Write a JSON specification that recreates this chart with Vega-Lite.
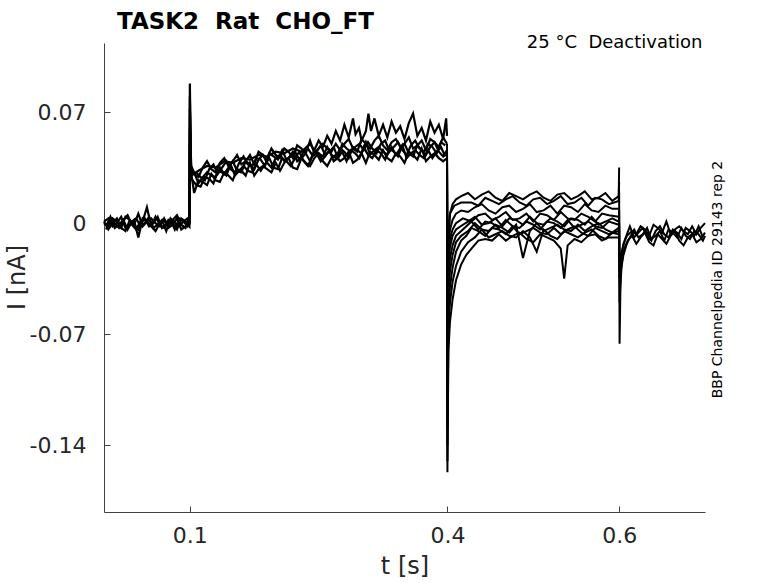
{
  "$schema": "https://vega.github.io/schema/vega-lite/v6.json",
  "width": 601,
  "height": 469,
  "autosize": "none",
  "padding": {"left": 104, "top": 43, "right": 73, "bottom": 71},
  "background": "white",
  "title": {
    "text": "TASK2 \u00a0Rat \u00a0CHO_FT",
    "frame": "group",
    "anchor": "start",
    "dx": 13,
    "offset": -19,
    "baseline": "alphabetic",
    "fontSize": 23,
    "fontWeight": "bold",
    "font": "DejaVu Sans",
    "color": "black"
  },
  "datasets": {
    "step": [
      {"s":"a1","t":0,"i":0.001},{"s":"a1","t":0.005,"i":-0.004},{"s":"a1","t":0.01,"i":0},{"s":"a1","t":0.015,"i":0.003},{"s":"a1","t":0.02,"i":-0.003},{"s":"a1","t":0.025,"i":-0.005},{"s":"a1","t":0.03,"i":0.002},{"s":"a1","t":0.035,"i":-0.001},{"s":"a1","t":0.04,"i":-0.004},{"s":"a1","t":0.045,"i":0.001},{"s":"a1","t":0.05,"i":0.01},{"s":"a1","t":0.055,"i":-0.002},{"s":"a1","t":0.06,"i":-0.005},{"s":"a1","t":0.065,"i":0},{"s":"a1","t":0.07,"i":0.002},{"s":"a1","t":0.075,"i":-0.003},{"s":"a1","t":0.08,"i":-0.001},{"s":"a1","t":0.085,"i":0.003},{"s":"a1","t":0.09,"i":-0.004},{"s":"a1","t":0.095,"i":-0.002},{"s":"a1","t":0.0995,"i":0.001},{"s":"a1","t":0.1,"i":0.088},{"s":"a1","t":0.1015,"i":0.032},
      {"s":"a1","t":0.105,"i":0.019},{"s":"a1","t":0.11,"i":0.027},{"s":"a1","t":0.115,"i":0.026},{"s":"a1","t":0.12,"i":0.024},{"s":"a1","t":0.125,"i":0.031},{"s":"a1","t":0.13,"i":0.027},{"s":"a1","t":0.135,"i":0.026},{"s":"a1","t":0.14,"i":0.032},{"s":"a1","t":0.145,"i":0.03},{"s":"a1","t":0.15,"i":0.027},{"s":"a1","t":0.155,"i":0.034},{"s":"a1","t":0.16,"i":0.033},{"s":"a1","t":0.165,"i":0.03},{"s":"a1","t":0.17,"i":0.038},{"s":"a1","t":0.175,"i":0.03},{"s":"a1","t":0.18,"i":0.034},{"s":"a1","t":0.185,"i":0.036},{"s":"a1","t":0.19,"i":0.034},{"s":"a1","t":0.195,"i":0.032},{"s":"a1","t":0.2,"i":0.038},{"s":"a1","t":0.205,"i":0.033},{"s":"a1","t":0.21,"i":0.038},{"s":"a1","t":0.215,"i":0.041},{"s":"a1","t":0.22,"i":0.035},{"s":"a1","t":0.225,"i":0.034},{"s":"a1","t":0.23,"i":0.041},{"s":"a1","t":0.235,"i":0.038},{"s":"a1","t":0.24,"i":0.036},{"s":"a1","t":0.245,"i":0.041},{"s":"a1","t":0.25,"i":0.044},{"s":"a1","t":0.255,"i":0.039},{"s":"a1","t":0.26,"i":0.036},{"s":"a1","t":0.265,"i":0.041},{"s":"a1","t":0.27,"i":0.043},{"s":"a1","t":0.275,"i":0.039},{"s":"a1","t":0.28,"i":0.041},{"s":"a1","t":0.285,"i":0.045},{"s":"a1","t":0.29,"i":0.038},{"s":"a1","t":0.295,"i":0.04},{"s":"a1","t":0.3,"i":0.044},{"s":"a1","t":0.305,"i":0.038},{"s":"a1","t":0.31,"i":0.045},{"s":"a1","t":0.315,"i":0.043},{"s":"a1","t":0.32,"i":0.04},{"s":"a1","t":0.325,"i":0.046},{"s":"a1","t":0.33,"i":0.041},{"s":"a1","t":0.335,"i":0.039},{"s":"a1","t":0.34,"i":0.044},{"s":"a1","t":0.345,"i":0.042},{"s":"a1","t":0.35,"i":0.038},{"s":"a1","t":0.355,"i":0.045},{"s":"a1","t":0.36,"i":0.043},{"s":"a1","t":0.365,"i":0.04},{"s":"a1","t":0.37,"i":0.047},{"s":"a1","t":0.375,"i":0.039},{"s":"a1","t":0.38,"i":0.042},{"s":"a1","t":0.385,"i":0.044},{"s":"a1","t":0.39,"i":0.041},{"s":"a1","t":0.395,"i":0.039},{"s":"a1","t":0.3995,"i":0.041},

      {"s":"a2","t":0,"i":0.001},{"s":"a2","t":0.005,"i":0.003},{"s":"a2","t":0.01,"i":-0.002},{"s":"a2","t":0.015,"i":0},{"s":"a2","t":0.02,"i":0.004},{"s":"a2","t":0.025,"i":-0.003},{"s":"a2","t":0.03,"i":-0.001},{"s":"a2","t":0.035,"i":0.002},{"s":"a2","t":0.04,"i":-0.009},{"s":"a2","t":0.045,"i":0.003},{"s":"a2","t":0.05,"i":0.001},{"s":"a2","t":0.055,"i":-0.002},{"s":"a2","t":0.06,"i":0.004},{"s":"a2","t":0.065,"i":-0.001},{"s":"a2","t":0.07,"i":-0.003},{"s":"a2","t":0.075,"i":0.002},{"s":"a2","t":0.08,"i":0},{"s":"a2","t":0.085,"i":-0.004},{"s":"a2","t":0.09,"i":0.003},{"s":"a2","t":0.095,"i":0.001},{"s":"a2","t":0.0995,"i":-0.002},{"s":"a2","t":0.1,"i":0.072},{"s":"a2","t":0.1015,"i":0.036},
      {"s":"a2","t":0.105,"i":0.032},{"s":"a2","t":0.11,"i":0.025},{"s":"a2","t":0.115,"i":0.029},{"s":"a2","t":0.12,"i":0.032},{"s":"a2","t":0.125,"i":0.03},{"s":"a2","t":0.13,"i":0.029},{"s":"a2","t":0.135,"i":0.035},{"s":"a2","t":0.14,"i":0.031},{"s":"a2","t":0.145,"i":0.035},{"s":"a2","t":0.15,"i":0.039},{"s":"a2","t":0.155,"i":0.033},{"s":"a2","t":0.16,"i":0.032},{"s":"a2","t":0.165,"i":0.039},{"s":"a2","t":0.17,"i":0.037},{"s":"a2","t":0.175,"i":0.034},{"s":"a2","t":0.18,"i":0.04},{"s":"a2","t":0.185,"i":0.043},{"s":"a2","t":0.19,"i":0.038},{"s":"a2","t":0.195,"i":0.035},{"s":"a2","t":0.2,"i":0.041},{"s":"a2","t":0.205,"i":0.043},{"s":"a2","t":0.21,"i":0.039},{"s":"a2","t":0.215,"i":0.041},{"s":"a2","t":0.22,"i":0.045},{"s":"a2","t":0.225,"i":0.039},{"s":"a2","t":0.23,"i":0.041},{"s":"a2","t":0.235,"i":0.044},{"s":"a2","t":0.24,"i":0.039},{"s":"a2","t":0.245,"i":0.046},{"s":"a2","t":0.25,"i":0.044},{"s":"a2","t":0.255,"i":0.042},{"s":"a2","t":0.26,"i":0.048},{"s":"a2","t":0.265,"i":0.043},{"s":"a2","t":0.27,"i":0.041},{"s":"a2","t":0.275,"i":0.047},{"s":"a2","t":0.28,"i":0.045},{"s":"a2","t":0.285,"i":0.041},{"s":"a2","t":0.29,"i":0.048},{"s":"a2","t":0.295,"i":0.046},{"s":"a2","t":0.3,"i":0.044},{"s":"a2","t":0.305,"i":0.051},{"s":"a2","t":0.31,"i":0.043},{"s":"a2","t":0.315,"i":0.046},{"s":"a2","t":0.32,"i":0.048},{"s":"a2","t":0.325,"i":0.045},{"s":"a2","t":0.33,"i":0.043},{"s":"a2","t":0.335,"i":0.048},{"s":"a2","t":0.34,"i":0.043},{"s":"a2","t":0.345,"i":0.047},{"s":"a2","t":0.35,"i":0.05},{"s":"a2","t":0.355,"i":0.044},{"s":"a2","t":0.36,"i":0.042},{"s":"a2","t":0.365,"i":0.049},{"s":"a2","t":0.37,"i":0.046},{"s":"a2","t":0.375,"i":0.043},{"s":"a2","t":0.38,"i":0.048},{"s":"a2","t":0.385,"i":0.051},{"s":"a2","t":0.39,"i":0.045},{"s":"a2","t":0.395,"i":0.042},{"s":"a2","t":0.3995,"i":0.046},

      {"s":"a3","t":0,"i":0},{"s":"a3","t":0.005,"i":-0.002},{"s":"a3","t":0.01,"i":0.003},{"s":"a3","t":0.015,"i":0.001},{"s":"a3","t":0.02,"i":-0.003},{"s":"a3","t":0.025,"i":0.004},{"s":"a3","t":0.03,"i":0.002},{"s":"a3","t":0.035,"i":-0.001},{"s":"a3","t":0.04,"i":0.006},{"s":"a3","t":0.045,"i":-0.002},{"s":"a3","t":0.05,"i":0.001},{"s":"a3","t":0.055,"i":0.003},{"s":"a3","t":0.06,"i":0},{"s":"a3","t":0.065,"i":-0.002},{"s":"a3","t":0.07,"i":0.003},{"s":"a3","t":0.075,"i":-0.002},{"s":"a3","t":0.08,"i":0.002},{"s":"a3","t":0.085,"i":0.005},{"s":"a3","t":0.09,"i":-0.001},{"s":"a3","t":0.095,"i":-0.003},{"s":"a3","t":0.0995,"i":0.004},{"s":"a3","t":0.1,"i":0.06},{"s":"a3","t":0.1015,"i":0.034},
      {"s":"a3","t":0.105,"i":0.031},{"s":"a3","t":0.11,"i":0.029},{"s":"a3","t":0.115,"i":0.035},{"s":"a3","t":0.12,"i":0.039},{"s":"a3","t":0.125,"i":0.034},{"s":"a3","t":0.13,"i":0.032},{"s":"a3","t":0.135,"i":0.038},{"s":"a3","t":0.14,"i":0.041},{"s":"a3","t":0.145,"i":0.036},{"s":"a3","t":0.15,"i":0.039},{"s":"a3","t":0.155,"i":0.043},{"s":"a3","t":0.16,"i":0.037},{"s":"a3","t":0.165,"i":0.039},{"s":"a3","t":0.17,"i":0.043},{"s":"a3","t":0.175,"i":0.037},{"s":"a3","t":0.18,"i":0.045},{"s":"a3","t":0.185,"i":0.043},{"s":"a3","t":0.19,"i":0.041},{"s":"a3","t":0.195,"i":0.047},{"s":"a3","t":0.2,"i":0.043},{"s":"a3","t":0.205,"i":0.041},{"s":"a3","t":0.21,"i":0.047},{"s":"a3","t":0.215,"i":0.045},{"s":"a3","t":0.22,"i":0.041},{"s":"a3","t":0.225,"i":0.049},{"s":"a3","t":0.23,"i":0.047},{"s":"a3","t":0.235,"i":0.044},{"s":"a3","t":0.24,"i":0.052},{"s":"a3","t":0.245,"i":0.044},{"s":"a3","t":0.25,"i":0.047},{"s":"a3","t":0.255,"i":0.05},{"s":"a3","t":0.26,"i":0.047},{"s":"a3","t":0.265,"i":0.045},{"s":"a3","t":0.27,"i":0.05},{"s":"a3","t":0.275,"i":0.046},{"s":"a3","t":0.28,"i":0.05},{"s":"a3","t":0.285,"i":0.053},{"s":"a3","t":0.29,"i":0.047},{"s":"a3","t":0.295,"i":0.045},{"s":"a3","t":0.3,"i":0.053},{"s":"a3","t":0.305,"i":0.05},{"s":"a3","t":0.31,"i":0.047},{"s":"a3","t":0.315,"i":0.052},{"s":"a3","t":0.32,"i":0.055},{"s":"a3","t":0.325,"i":0.049},{"s":"a3","t":0.33,"i":0.046},{"s":"a3","t":0.335,"i":0.051},{"s":"a3","t":0.34,"i":0.053},{"s":"a3","t":0.345,"i":0.048},{"s":"a3","t":0.35,"i":0.05},{"s":"a3","t":0.355,"i":0.054},{"s":"a3","t":0.36,"i":0.047},{"s":"a3","t":0.365,"i":0.049},{"s":"a3","t":0.37,"i":0.052},{"s":"a3","t":0.375,"i":0.046},{"s":"a3","t":0.38,"i":0.053},{"s":"a3","t":0.385,"i":0.051},{"s":"a3","t":0.39,"i":0.048},{"s":"a3","t":0.395,"i":0.054},{"s":"a3","t":0.3995,"i":0.05},

      {"s":"a4","t":0.1015,"i":0.03},{"s":"a4","t":0.11,"i":0.033},{"s":"a4","t":0.12,"i":0.036},{"s":"a4","t":0.13,"i":0.035},{"s":"a4","t":0.14,"i":0.039},{"s":"a4","t":0.15,"i":0.038},{"s":"a4","t":0.16,"i":0.041},{"s":"a4","t":0.17,"i":0.04},{"s":"a4","t":0.18,"i":0.043},{"s":"a4","t":0.19,"i":0.042},{"s":"a4","t":0.2,"i":0.045},{"s":"a4","t":0.21,"i":0.044},{"s":"a4","t":0.22,"i":0.047},{"s":"a4","t":0.23,"i":0.045},{"s":"a4","t":0.24,"i":0.05},{"s":"a4","t":0.245,"i":0.046},{"s":"a4","t":0.25,"i":0.052},{"s":"a4","t":0.255,"i":0.048},{"s":"a4","t":0.26,"i":0.055},{"s":"a4","t":0.265,"i":0.05},{"s":"a4","t":0.27,"i":0.058},{"s":"a4","t":0.275,"i":0.052},{"s":"a4","t":0.28,"i":0.062},{"s":"a4","t":0.285,"i":0.054},{"s":"a4","t":0.29,"i":0.066},{"s":"a4","t":0.293,"i":0.056},{"s":"a4","t":0.297,"i":0.06},{"s":"a4","t":0.3,"i":0.052},{"s":"a4","t":0.305,"i":0.058},{"s":"a4","t":0.308,"i":0.069},{"s":"a4","t":0.311,"i":0.058},{"s":"a4","t":0.315,"i":0.066},{"s":"a4","t":0.32,"i":0.055},{"s":"a4","t":0.325,"i":0.062},{"s":"a4","t":0.33,"i":0.054},{"s":"a4","t":0.335,"i":0.064},{"s":"a4","t":0.34,"i":0.057},{"s":"a4","t":0.345,"i":0.061},{"s":"a4","t":0.35,"i":0.053},{"s":"a4","t":0.355,"i":0.063},{"s":"a4","t":0.36,"i":0.069},{"s":"a4","t":0.365,"i":0.055},{"s":"a4","t":0.37,"i":0.06},{"s":"a4","t":0.375,"i":0.052},{"s":"a4","t":0.38,"i":0.064},{"s":"a4","t":0.385,"i":0.057},{"s":"a4","t":0.39,"i":0.062},{"s":"a4","t":0.395,"i":0.053},{"s":"a4","t":0.3985,"i":0.066},{"s":"a4","t":0.3995,"i":0.055},

      {"s":"a5","t":0.0025,"i":-0.004},{"s":"a5","t":0.0075,"i":0.003},{"s":"a5","t":0.0125,"i":0},{"s":"a5","t":0.0175,"i":-0.003},{"s":"a5","t":0.0225,"i":0.002},{"s":"a5","t":0.0275,"i":0.005},{"s":"a5","t":0.0325,"i":-0.001},{"s":"a5","t":0.0375,"i":-0.004},{"s":"a5","t":0.0425,"i":0.001},{"s":"a5","t":0.0475,"i":0.003},{"s":"a5","t":0.0525,"i":-0.002},{"s":"a5","t":0.0575,"i":0},{"s":"a5","t":0.0625,"i":0.004},{"s":"a5","t":0.0675,"i":-0.003},{"s":"a5","t":0.0725,"i":-0.001},{"s":"a5","t":0.0775,"i":0.002},{"s":"a5","t":0.0825,"i":-0.004},{"s":"a5","t":0.0875,"i":0.003},{"s":"a5","t":0.0925,"i":0.001},{"s":"a5","t":0.0975,"i":-0.002},{"s":"a5","t":0.0995,"i":0},{"s":"a5","t":0.1,"i":0.05},{"s":"a5","t":0.1015,"i":0.028},
      {"s":"a5","t":0.1075,"i":0.024},{"s":"a5","t":0.1125,"i":0.023},{"s":"a5","t":0.1175,"i":0.029},{"s":"a5","t":0.1225,"i":0.028},{"s":"a5","t":0.1275,"i":0.025},{"s":"a5","t":0.1325,"i":0.033},{"s":"a5","t":0.1375,"i":0.032},{"s":"a5","t":0.1425,"i":0.03},{"s":"a5","t":0.1475,"i":0.037},{"s":"a5","t":0.1525,"i":0.03},{"s":"a5","t":0.1575,"i":0.033},{"s":"a5","t":0.1625,"i":0.036},{"s":"a5","t":0.1675,"i":0.033},{"s":"a5","t":0.1725,"i":0.032},{"s":"a5","t":0.1775,"i":0.037},{"s":"a5","t":0.1825,"i":0.033},{"s":"a5","t":0.1875,"i":0.037},{"s":"a5","t":0.1925,"i":0.041},{"s":"a5","t":0.1975,"i":0.035},{"s":"a5","t":0.2025,"i":0.034},{"s":"a5","t":0.2075,"i":0.041},{"s":"a5","t":0.2125,"i":0.039},{"s":"a5","t":0.2175,"i":0.036},{"s":"a5","t":0.2225,"i":0.041},{"s":"a5","t":0.2275,"i":0.045},{"s":"a5","t":0.2325,"i":0.039},{"s":"a5","t":0.2375,"i":0.036},{"s":"a5","t":0.2425,"i":0.042},{"s":"a5","t":0.2475,"i":0.044},{"s":"a5","t":0.2525,"i":0.039},{"s":"a5","t":0.2575,"i":0.042},{"s":"a5","t":0.2625,"i":0.046},{"s":"a5","t":0.2675,"i":0.039},{"s":"a5","t":0.2725,"i":0.041},{"s":"a5","t":0.2775,"i":0.045},{"s":"a5","t":0.2825,"i":0.039},{"s":"a5","t":0.2875,"i":0.046},{"s":"a5","t":0.2925,"i":0.044},{"s":"a5","t":0.2975,"i":0.041},{"s":"a5","t":0.3025,"i":0.048},{"s":"a5","t":0.3075,"i":0.043},{"s":"a5","t":0.3125,"i":0.041},{"s":"a5","t":0.3175,"i":0.046},{"s":"a5","t":0.3225,"i":0.044},{"s":"a5","t":0.3275,"i":0.04},{"s":"a5","t":0.3325,"i":0.047},{"s":"a5","t":0.3375,"i":0.045},{"s":"a5","t":0.3425,"i":0.042},{"s":"a5","t":0.3475,"i":0.049},{"s":"a5","t":0.3525,"i":0.041},{"s":"a5","t":0.3575,"i":0.044},{"s":"a5","t":0.3625,"i":0.046},{"s":"a5","t":0.3675,"i":0.043},{"s":"a5","t":0.3725,"i":0.041},{"s":"a5","t":0.3775,"i":0.046},{"s":"a5","t":0.3825,"i":0.041},{"s":"a5","t":0.3875,"i":0.045},{"s":"a5","t":0.3925,"i":0.048},{"s":"a5","t":0.3975,"i":0.042},

      {"s":"a6","t":0.0025,"i":-0.002},{"s":"a6","t":0.0075,"i":0.004},{"s":"a6","t":0.0125,"i":-0.003},{"s":"a6","t":0.0175,"i":-0.001},{"s":"a6","t":0.0225,"i":0.002},{"s":"a6","t":0.0275,"i":-0.004},{"s":"a6","t":0.0325,"i":0.001},{"s":"a6","t":0.0375,"i":0.003},{"s":"a6","t":0.0425,"i":-0.002},{"s":"a6","t":0.0475,"i":0},{"s":"a6","t":0.0525,"i":0.004},{"s":"a6","t":0.0575,"i":-0.003},{"s":"a6","t":0.0625,"i":-0.001},{"s":"a6","t":0.0675,"i":0.002},{"s":"a6","t":0.0725,"i":-0.005},{"s":"a6","t":0.0775,"i":0.003},{"s":"a6","t":0.0825,"i":0},{"s":"a6","t":0.0875,"i":-0.002},{"s":"a6","t":0.0925,"i":0.001},{"s":"a6","t":0.0975,"i":0.003},{"s":"a6","t":0.0995,"i":-0.001},{"s":"a6","t":0.1,"i":0.08},{"s":"a6","t":0.1015,"i":0.03},
      {"s":"a6","t":0.1075,"i":0.032},{"s":"a6","t":0.1125,"i":0.029},{"s":"a6","t":0.1175,"i":0.027},{"s":"a6","t":0.1225,"i":0.034},{"s":"a6","t":0.1275,"i":0.037},{"s":"a6","t":0.1325,"i":0.031},{"s":"a6","t":0.1375,"i":0.035},{"s":"a6","t":0.1425,"i":0.039},{"s":"a6","t":0.1475,"i":0.034},{"s":"a6","t":0.1525,"i":0.032},{"s":"a6","t":0.1575,"i":0.038},{"s":"a6","t":0.1625,"i":0.042},{"s":"a6","t":0.1675,"i":0.037},{"s":"a6","t":0.1725,"i":0.036},{"s":"a6","t":0.1775,"i":0.041},{"s":"a6","t":0.1825,"i":0.04},{"s":"a6","t":0.1875,"i":0.036},{"s":"a6","t":0.1925,"i":0.044},{"s":"a6","t":0.1975,"i":0.042},{"s":"a6","t":0.2025,"i":0.04},{"s":"a6","t":0.2075,"i":0.046},{"s":"a6","t":0.2125,"i":0.04},{"s":"a6","t":0.2175,"i":0.042},{"s":"a6","t":0.2225,"i":0.045},{"s":"a6","t":0.2275,"i":0.04},{"s":"a6","t":0.2325,"i":0.045},{"s":"a6","t":0.2375,"i":0.047},{"s":"a6","t":0.2425,"i":0.043},{"s":"a6","t":0.2475,"i":0.045},{"s":"a6","t":0.2525,"i":0.049},{"s":"a6","t":0.2575,"i":0.043},{"s":"a6","t":0.2625,"i":0.045},{"s":"a6","t":0.2675,"i":0.048},{"s":"a6","t":0.2725,"i":0.041},{"s":"a6","t":0.2775,"i":0.05},{"s":"a6","t":0.2825,"i":0.047},{"s":"a6","t":0.2875,"i":0.045},{"s":"a6","t":0.2925,"i":0.048},{"s":"a6","t":0.2975,"i":0.05},{"s":"a6","t":0.3025,"i":0.046},{"s":"a6","t":0.3075,"i":0.051},{"s":"a6","t":0.3125,"i":0.047},{"s":"a6","t":0.3175,"i":0.044},{"s":"a6","t":0.3225,"i":0.05},{"s":"a6","t":0.3275,"i":0.052},{"s":"a6","t":0.3325,"i":0.045},{"s":"a6","t":0.3375,"i":0.048},{"s":"a6","t":0.3425,"i":0.051},{"s":"a6","t":0.3475,"i":0.046},{"s":"a6","t":0.3525,"i":0.043},{"s":"a6","t":0.3575,"i":0.049},{"s":"a6","t":0.3625,"i":0.052},{"s":"a6","t":0.3675,"i":0.047},{"s":"a6","t":0.3725,"i":0.045},{"s":"a6","t":0.3775,"i":0.05},{"s":"a6","t":0.3825,"i":0.048},{"s":"a6","t":0.3875,"i":0.044},{"s":"a6","t":0.3925,"i":0.051},{"s":"a6","t":0.3975,"i":0.049}
    ],
    "tail": [
      {"s":"b1","t":0.3995,"i":0.046},{"s":"b1","t":0.4,"i":-0.157},{"s":"b1","t":0.4012,"i":-0.01},{"s":"b1","t":0.403,"i":0.006},{"s":"b1","t":0.406,"i":0.012},{"s":"b1","t":0.41,"i":0.015},{"s":"b1","t":0.416,"i":0.017},
      {"s":"b1","t":0.424,"i":0.019},{"s":"b1","t":0.432,"i":0.015},{"s":"b1","t":0.44,"i":0.018},{"s":"b1","t":0.448,"i":0.02},{"s":"b1","t":0.456,"i":0.016},{"s":"b1","t":0.464,"i":0.014},{"s":"b1","t":0.472,"i":0.019},{"s":"b1","t":0.48,"i":0.017},{"s":"b1","t":0.488,"i":0.015},{"s":"b1","t":0.496,"i":0.018},{"s":"b1","t":0.504,"i":0.02},{"s":"b1","t":0.512,"i":0.016},{"s":"b1","t":0.52,"i":0.014},{"s":"b1","t":0.528,"i":0.018},{"s":"b1","t":0.536,"i":0.019},{"s":"b1","t":0.544,"i":0.015},{"s":"b1","t":0.552,"i":0.017},{"s":"b1","t":0.56,"i":0.02},{"s":"b1","t":0.568,"i":0.015},{"s":"b1","t":0.576,"i":0.016},{"s":"b1","t":0.584,"i":0.019},{"s":"b1","t":0.592,"i":0.014},{"s":"b1","t":0.5995,"i":0.017},{"s":"b1","t":0.6,"i":0.035},

      {"s":"b2","t":0.3995,"i":0.044},{"s":"b2","t":0.4,"i":-0.14},{"s":"b2","t":0.4012,"i":-0.005},{"s":"b2","t":0.403,"i":0.006},{"s":"b2","t":0.408,"i":0.011},{"s":"b2","t":0.416,"i":0.013},
      {"s":"b2","t":0.428,"i":0.013},{"s":"b2","t":0.436,"i":0.011},{"s":"b2","t":0.444,"i":0.016},{"s":"b2","t":0.452,"i":0.014},{"s":"b2","t":0.46,"i":0.012},{"s":"b2","t":0.468,"i":0.015},{"s":"b2","t":0.476,"i":0.017},{"s":"b2","t":0.484,"i":0.013},{"s":"b2","t":0.492,"i":0.011},{"s":"b2","t":0.5,"i":0.015},{"s":"b2","t":0.508,"i":0.016},{"s":"b2","t":0.516,"i":0.012},{"s":"b2","t":0.524,"i":0.014},{"s":"b2","t":0.532,"i":0.017},{"s":"b2","t":0.54,"i":0.012},{"s":"b2","t":0.548,"i":0.013},{"s":"b2","t":0.556,"i":0.016},{"s":"b2","t":0.564,"i":0.011},{"s":"b2","t":0.572,"i":0.016},{"s":"b2","t":0.58,"i":0.015},{"s":"b2","t":0.588,"i":0.012},{"s":"b2","t":0.5995,"i":0.014},{"s":"b2","t":0.6,"i":0.026},

      {"s":"b3","t":0.3995,"i":0.05},{"s":"b3","t":0.4,"i":-0.12},{"s":"b3","t":0.4012,"i":-0.015},{"s":"b3","t":0.403,"i":-0.004},{"s":"b3","t":0.406,"i":0.002},{"s":"b3","t":0.41,"i":0.006},{"s":"b3","t":0.416,"i":0.008},
      {"s":"b3","t":0.424,"i":0.007},{"s":"b3","t":0.432,"i":0.01},{"s":"b3","t":0.44,"i":0.012},{"s":"b3","t":0.448,"i":0.008},{"s":"b3","t":0.456,"i":0.006},{"s":"b3","t":0.464,"i":0.01},{"s":"b3","t":0.472,"i":0.011},{"s":"b3","t":0.48,"i":0.007},{"s":"b3","t":0.488,"i":0.009},{"s":"b3","t":0.496,"i":0.012},{"s":"b3","t":0.504,"i":0.007},{"s":"b3","t":0.512,"i":0.008},{"s":"b3","t":0.52,"i":0.011},{"s":"b3","t":0.528,"i":0.006},{"s":"b3","t":0.536,"i":0.011},{"s":"b3","t":0.544,"i":0.01},{"s":"b3","t":0.552,"i":0.007},{"s":"b3","t":0.56,"i":0.012},{"s":"b3","t":0.568,"i":0.008},{"s":"b3","t":0.576,"i":0.007},{"s":"b3","t":0.584,"i":0.011},{"s":"b3","t":0.592,"i":0.009},{"s":"b3","t":0.5995,"i":0.009},

      {"s":"b4","t":0.3995,"i":0.041},{"s":"b4","t":0.4,"i":-0.1},{"s":"b4","t":0.4012,"i":-0.02},{"s":"b4","t":0.403,"i":-0.01},{"s":"b4","t":0.406,"i":-0.004},{"s":"b4","t":0.41,"i":0},{"s":"b4","t":0.418,"i":0.003},
      {"s":"b4","t":0.428,"i":0.001},{"s":"b4","t":0.436,"i":0.005},{"s":"b4","t":0.444,"i":0.006},{"s":"b4","t":0.452,"i":0.002},{"s":"b4","t":0.46,"i":0.004},{"s":"b4","t":0.468,"i":0.007},{"s":"b4","t":0.476,"i":0.002},{"s":"b4","t":0.484,"i":0.003},{"s":"b4","t":0.492,"i":0.006},{"s":"b4","t":0.5,"i":0.001},{"s":"b4","t":0.508,"i":0.006},{"s":"b4","t":0.516,"i":0.005},{"s":"b4","t":0.524,"i":0.002},{"s":"b4","t":0.532,"i":0.007},{"s":"b4","t":0.54,"i":0.003},{"s":"b4","t":0.548,"i":0.002},{"s":"b4","t":0.556,"i":0.006},{"s":"b4","t":0.564,"i":0.004},{"s":"b4","t":0.572,"i":0.001},{"s":"b4","t":0.58,"i":0.006},{"s":"b4","t":0.588,"i":0.005},{"s":"b4","t":0.5995,"i":0.004},

      {"s":"b5","t":0.3995,"i":0.047},{"s":"b5","t":0.4,"i":-0.09},{"s":"b5","t":0.4012,"i":-0.025},{"s":"b5","t":0.403,"i":-0.015},{"s":"b5","t":0.406,"i":-0.008},{"s":"b5","t":0.41,"i":-0.004},{"s":"b5","t":0.418,"i":-0.001},
      {"s":"b5","t":0.424,"i":0.001},{"s":"b5","t":0.432,"i":0.004},{"s":"b5","t":0.44,"i":-0.001},{"s":"b5","t":0.448,"i":0},{"s":"b5","t":0.456,"i":0.003},{"s":"b5","t":0.464,"i":-0.002},{"s":"b5","t":0.472,"i":0.003},{"s":"b5","t":0.48,"i":0.002},{"s":"b5","t":0.488,"i":-0.001},{"s":"b5","t":0.496,"i":0.004},{"s":"b5","t":0.504,"i":0},{"s":"b5","t":0.512,"i":-0.001},{"s":"b5","t":0.52,"i":0.003},{"s":"b5","t":0.528,"i":0.001},{"s":"b5","t":0.536,"i":-0.002},{"s":"b5","t":0.544,"i":0.003},{"s":"b5","t":0.552,"i":0.002},{"s":"b5","t":0.56,"i":-0.001},{"s":"b5","t":0.568,"i":0.004},{"s":"b5","t":0.576,"i":-0.001},{"s":"b5","t":0.584,"i":0.001},{"s":"b5","t":0.592,"i":0.003},{"s":"b5","t":0.5995,"i":0.001},

      {"s":"b6","t":0.3995,"i":0.043},{"s":"b6","t":0.4,"i":-0.08},{"s":"b6","t":0.4012,"i":-0.035},{"s":"b6","t":0.403,"i":-0.022},{"s":"b6","t":0.406,"i":-0.014},{"s":"b6","t":0.41,"i":-0.008},{"s":"b6","t":0.418,"i":-0.004},
      {"s":"b6","t":0.428,"i":0.001},{"s":"b6","t":0.436,"i":-0.004},{"s":"b6","t":0.444,"i":0.001},{"s":"b6","t":0.452,"i":0},{"s":"b6","t":0.46,"i":-0.003},{"s":"b6","t":0.468,"i":0.002},{"s":"b6","t":0.476,"i":-0.002},{"s":"b6","t":0.484,"i":-0.003},{"s":"b6","t":0.492,"i":0.001},{"s":"b6","t":0.5,"i":-0.001},{"s":"b6","t":0.508,"i":-0.004},{"s":"b6","t":0.516,"i":0.001},{"s":"b6","t":0.524,"i":0},{"s":"b6","t":0.532,"i":-0.003},{"s":"b6","t":0.54,"i":0.002},{"s":"b6","t":0.548,"i":-0.003},{"s":"b6","t":0.556,"i":-0.001},{"s":"b6","t":0.564,"i":0.001},{"s":"b6","t":0.572,"i":-0.002},{"s":"b6","t":0.58,"i":-0.003},{"s":"b6","t":0.588,"i":0.001},{"s":"b6","t":0.5995,"i":-0.001},

      {"s":"b7","t":0.3995,"i":0.048},{"s":"b7","t":0.4,"i":-0.07},{"s":"b7","t":0.4012,"i":-0.045},{"s":"b7","t":0.403,"i":-0.03},{"s":"b7","t":0.406,"i":-0.02},{"s":"b7","t":0.41,"i":-0.012},{"s":"b7","t":0.416,"i":-0.008},
      {"s":"b7","t":0.424,"i":-0.005},{"s":"b7","t":0.432,"i":0},{"s":"b7","t":0.44,"i":-0.004},{"s":"b7","t":0.448,"i":-0.005},{"s":"b7","t":0.456,"i":-0.001},{"s":"b7","t":0.464,"i":-0.003},{"s":"b7","t":0.472,"i":-0.006},{"s":"b7","t":0.48,"i":-0.001},{"s":"b7","t":0.488,"i":-0.022},{"s":"b7","t":0.496,"i":-0.005},{"s":"b7","t":0.504,"i":0},{"s":"b7","t":0.512,"i":-0.005},{"s":"b7","t":0.52,"i":-0.003},{"s":"b7","t":0.528,"i":-0.001},{"s":"b7","t":0.536,"i":-0.004},{"s":"b7","t":0.544,"i":-0.005},{"s":"b7","t":0.552,"i":-0.001},{"s":"b7","t":0.56,"i":-0.005},{"s":"b7","t":0.568,"i":-0.002},{"s":"b7","t":0.576,"i":0},{"s":"b7","t":0.584,"i":-0.004},{"s":"b7","t":0.592,"i":-0.006},{"s":"b7","t":0.5995,"i":-0.003},

      {"s":"b8","t":0.3995,"i":0.045},{"s":"b8","t":0.4,"i":-0.11},{"s":"b8","t":0.4012,"i":-0.055},{"s":"b8","t":0.403,"i":-0.04},{"s":"b8","t":0.406,"i":-0.028},{"s":"b8","t":0.41,"i":-0.018},{"s":"b8","t":0.416,"i":-0.011},{"s":"b8","t":0.422,"i":-0.008},
      {"s":"b8","t":0.428,"i":-0.003},{"s":"b8","t":0.436,"i":-0.005},{"s":"b8","t":0.444,"i":-0.008},{"s":"b8","t":0.452,"i":-0.003},{"s":"b8","t":0.46,"i":-0.004},{"s":"b8","t":0.468,"i":-0.007},{"s":"b8","t":0.476,"i":-0.002},{"s":"b8","t":0.484,"i":-0.007},{"s":"b8","t":0.492,"i":-0.005},{"s":"b8","t":0.5,"i":-0.003},{"s":"b8","t":0.508,"i":-0.006},{"s":"b8","t":0.516,"i":-0.007},{"s":"b8","t":0.524,"i":-0.003},{"s":"b8","t":0.532,"i":-0.007},{"s":"b8","t":0.54,"i":-0.004},{"s":"b8","t":0.548,"i":-0.002},{"s":"b8","t":0.556,"i":-0.006},{"s":"b8","t":0.564,"i":-0.008},{"s":"b8","t":0.572,"i":-0.003},{"s":"b8","t":0.58,"i":-0.005},{"s":"b8","t":0.588,"i":-0.007},{"s":"b8","t":0.5995,"i":-0.005},

      {"s":"b9","t":0.3995,"i":0.042},{"s":"b9","t":0.4,"i":-0.13},{"s":"b9","t":0.4012,"i":-0.065},{"s":"b9","t":0.403,"i":-0.05},{"s":"b9","t":0.406,"i":-0.037},{"s":"b9","t":0.41,"i":-0.027},{"s":"b9","t":0.416,"i":-0.018},
      {"s":"b9","t":0.424,"i":-0.012},{"s":"b9","t":0.432,"i":-0.009},{"s":"b9","t":0.44,"i":-0.004},{"s":"b9","t":0.448,"i":-0.009},{"s":"b9","t":0.456,"i":-0.007},{"s":"b9","t":0.464,"i":-0.005},{"s":"b9","t":0.472,"i":-0.008},{"s":"b9","t":0.48,"i":-0.009},{"s":"b9","t":0.488,"i":-0.005},{"s":"b9","t":0.496,"i":-0.009},{"s":"b9","t":0.504,"i":-0.018},{"s":"b9","t":0.512,"i":-0.004},{"s":"b9","t":0.52,"i":-0.008},{"s":"b9","t":0.528,"i":-0.01},{"s":"b9","t":0.536,"i":-0.005},{"s":"b9","t":0.544,"i":-0.007},{"s":"b9","t":0.552,"i":-0.009},{"s":"b9","t":0.56,"i":-0.006},{"s":"b9","t":0.568,"i":-0.004},{"s":"b9","t":0.576,"i":-0.008},{"s":"b9","t":0.584,"i":-0.01},{"s":"b9","t":0.592,"i":-0.006},{"s":"b9","t":0.5995,"i":-0.007},

      {"s":"b10","t":0.3995,"i":0.049},{"s":"b10","t":0.4,"i":-0.15},{"s":"b10","t":0.4012,"i":-0.08},{"s":"b10","t":0.403,"i":-0.062},{"s":"b10","t":0.406,"i":-0.048},{"s":"b10","t":0.41,"i":-0.036},{"s":"b10","t":0.416,"i":-0.026},{"s":"b10","t":0.422,"i":-0.02},
      {"s":"b10","t":0.428,"i":-0.016},{"s":"b10","t":0.436,"i":-0.011},{"s":"b10","t":0.444,"i":-0.01},{"s":"b10","t":0.452,"i":-0.011},{"s":"b10","t":0.46,"i":-0.007},{"s":"b10","t":0.468,"i":-0.011},{"s":"b10","t":0.476,"i":-0.008},{"s":"b10","t":0.484,"i":-0.006},{"s":"b10","t":0.492,"i":-0.01},{"s":"b10","t":0.5,"i":-0.012},{"s":"b10","t":0.508,"i":-0.007},{"s":"b10","t":0.516,"i":-0.009},{"s":"b10","t":0.524,"i":-0.011},{"s":"b10","t":0.532,"i":-0.016},{"s":"b10","t":0.536,"i":-0.035},{"s":"b10","t":0.54,"i":-0.014},{"s":"b10","t":0.548,"i":-0.01},{"s":"b10","t":0.556,"i":-0.012},{"s":"b10","t":0.564,"i":-0.008},{"s":"b10","t":0.572,"i":-0.007},{"s":"b10","t":0.58,"i":-0.011},{"s":"b10","t":0.588,"i":-0.009},{"s":"b10","t":0.5995,"i":-0.009},

      {"s":"c1","t":0.6,"i":0.02},{"s":"c1","t":0.6005,"i":-0.076},{"s":"c1","t":0.6015,"i":-0.04},{"s":"c1","t":0.603,"i":-0.025},{"s":"c1","t":0.606,"i":-0.016},{"s":"c1","t":0.61,"i":-0.011},
      {"s":"c1","t":0.615,"i":-0.008},{"s":"c1","t":0.62,"i":-0.013},{"s":"c1","t":0.625,"i":-0.009},{"s":"c1","t":0.63,"i":-0.006},{"s":"c1","t":0.635,"i":-0.012},{"s":"c1","t":0.64,"i":-0.014},{"s":"c1","t":0.645,"i":-0.007},{"s":"c1","t":0.65,"i":-0.01},{"s":"c1","t":0.655,"i":-0.013},{"s":"c1","t":0.66,"i":-0.008},{"s":"c1","t":0.665,"i":-0.005},{"s":"c1","t":0.67,"i":-0.011},{"s":"c1","t":0.675,"i":-0.014},{"s":"c1","t":0.68,"i":-0.009},{"s":"c1","t":0.685,"i":-0.007},{"s":"c1","t":0.69,"i":-0.012},{"s":"c1","t":0.695,"i":-0.01},{"s":"c1","t":0.7,"i":-0.006},

      {"s":"c2","t":0.6,"i":0.008},{"s":"c2","t":0.6005,"i":-0.05},{"s":"c2","t":0.602,"i":-0.03},{"s":"c2","t":0.605,"i":-0.02},{"s":"c2","t":0.609,"i":-0.013},
      {"s":"c2","t":0.6125,"i":-0.009},{"s":"c2","t":0.6175,"i":-0.004},{"s":"c2","t":0.6225,"i":-0.009},{"s":"c2","t":0.6275,"i":-0.007},{"s":"c2","t":0.6325,"i":-0.003},{"s":"c2","t":0.6375,"i":-0.01},{"s":"c2","t":0.6425,"i":-0.008},{"s":"c2","t":0.6475,"i":-0.005},{"s":"c2","t":0.6525,"i":-0.011},{"s":"c2","t":0.6575,"i":-0.004},{"s":"c2","t":0.6625,"i":-0.006},{"s":"c2","t":0.6675,"i":-0.009},{"s":"c2","t":0.6725,"i":-0.003},{"s":"c2","t":0.6775,"i":-0.008},{"s":"c2","t":0.6825,"i":-0.01},{"s":"c2","t":0.6875,"i":-0.005},{"s":"c2","t":0.6925,"i":-0.007},{"s":"c2","t":0.6975,"i":-0.011},{"s":"c2","t":0.7,"i":-0.008},

      {"s":"c3","t":0.6,"i":-0.002},{"s":"c3","t":0.6005,"i":-0.035},{"s":"c3","t":0.602,"i":-0.022},{"s":"c3","t":0.605,"i":-0.013},{"s":"c3","t":0.609,"i":-0.008},
      {"s":"c3","t":0.615,"i":-0.005},{"s":"c3","t":0.62,"i":-0.007},{"s":"c3","t":0.625,"i":-0.002},{"s":"c3","t":0.63,"i":-0.004},{"s":"c3","t":0.635,"i":-0.008},{"s":"c3","t":0.64,"i":-0.001},{"s":"c3","t":0.645,"i":-0.003},{"s":"c3","t":0.65,"i":-0.006},{"s":"c3","t":0.655,"i":0.001},{"s":"c3","t":0.66,"i":-0.007},{"s":"c3","t":0.665,"i":-0.004},{"s":"c3","t":0.67,"i":-0.002},{"s":"c3","t":0.675,"i":-0.005},{"s":"c3","t":0.68,"i":-0.007},{"s":"c3","t":0.685,"i":-0.002},{"s":"c3","t":0.69,"i":-0.007},{"s":"c3","t":0.695,"i":-0.003},{"s":"c3","t":0.7,"i":0},

      {"s":"c4","t":0.6,"i":0},{"s":"c4","t":0.6005,"i":-0.03},{"s":"c4","t":0.603,"i":-0.018},{"s":"c4","t":0.607,"i":-0.01},
      {"s":"c4","t":0.6125,"i":-0.002},{"s":"c4","t":0.6175,"i":-0.009},{"s":"c4","t":0.6225,"i":-0.006},{"s":"c4","t":0.6275,"i":-0.003},{"s":"c4","t":0.6325,"i":-0.008},{"s":"c4","t":0.6375,"i":-0.011},{"s":"c4","t":0.6425,"i":-0.005},{"s":"c4","t":0.6475,"i":-0.002},{"s":"c4","t":0.6525,"i":-0.007},{"s":"c4","t":0.6575,"i":-0.009},{"s":"c4","t":0.6625,"i":-0.004},{"s":"c4","t":0.6675,"i":-0.006},{"s":"c4","t":0.6725,"i":-0.01},{"s":"c4","t":0.6775,"i":-0.003},{"s":"c4","t":0.6825,"i":-0.005},{"s":"c4","t":0.6875,"i":-0.008},{"s":"c4","t":0.6925,"i":-0.002},{"s":"c4","t":0.6975,"i":-0.009}
    ]
  },
  "layer": [
    {
      "data": {"name": "step"},
      "mark": {"type": "line", "color": "black", "strokeWidth": 2.2},
      "encoding": {
        "x": {
          "field": "t",
          "type": "quantitative",
          "scale": {"domain": [0, 0.7], "nice": false, "zero": false},
          "axis": {
            "orient": "bottom",
            "values": [0.1, 0.4, 0.6],
            "labelExpr": "'' + datum.value",
            "labelFontSize": 22,
            "labelFlush": false,
            "tickSize": -6,
            "labelPadding": 19,
            "title": "t [s]",
            "titleFontSize": 24,
            "titleX": 300.5,
            "titleY": 61,
            "titleAlign": "center",
            "titleBaseline": "alphabetic"
          }
        },
        "y": {
          "field": "i",
          "type": "quantitative",
          "scale": {"domain": [-0.182, 0.1135], "nice": false, "zero": false},
          "axis": {
            "orient": "left",
            "values": [-0.14, -0.07, 0, 0.07],
            "labelExpr": "'' + datum.value",
            "labelFontSize": 22,
            "labelFlush": false,
            "tickSize": -6,
            "labelPadding": 24,
            "title": "I [nA]",
            "titleFontSize": 24,
            "titleAngle": 270,
            "titleX": -87,
            "titleY": 234,
            "titleAlign": "center",
            "titleBaseline": "middle"
          }
        },
        "detail": {"field": "s"}
      }
    },
    {
      "data": {"name": "tail"},
      "mark": {"type": "line", "color": "black", "strokeWidth": 2},
      "encoding": {
        "x": {
          "field": "t",
          "type": "quantitative",
          "scale": {"domain": [0, 0.7], "nice": false, "zero": false},
          "axis": {
            "orient": "top",
            "labels": false,
            "ticks": false,
            "domain": false,
            "title": "25 °C \u00a0Deactivation",
            "titleFontSize": 18,
            "titleColor": "black",
            "titleAnchor": "end",
            "titleAlign": "right",
            "titleBaseline": "alphabetic",
            "titleX": 598,
            "titleY": 4
          }
        },
        "y": {
          "field": "i",
          "type": "quantitative",
          "scale": {"domain": [-0.182, 0.1135], "nice": false, "zero": false},
          "axis": {
            "orient": "right",
            "labels": false,
            "ticks": false,
            "domain": false,
            "title": "BBP Channelpedia ID 29143 rep 2",
            "titleFontSize": 14,
            "titleColor": "black",
            "titleAngle": 270,
            "titleAlign": "center",
            "titleBaseline": "middle",
            "titleX": 12,
            "titleY": 236
          }
        },
        "detail": {"field": "s"}
      }
    }
  ],
  "resolve": {"axis": {"x": "independent", "y": "independent"}},
  "config": {
    "view": {"stroke": null},
    "axis": {
      "grid": false,
      "labelFont": "DejaVu Sans",
      "titleFont": "DejaVu Sans",
      "labelColor": "#262626",
      "titleColor": "#262626",
      "titleFontWeight": "normal",
      "domainColor": "#404040",
      "domainWidth": 1,
      "tickColor": "#404040",
      "tickWidth": 1
    }
  }
}
